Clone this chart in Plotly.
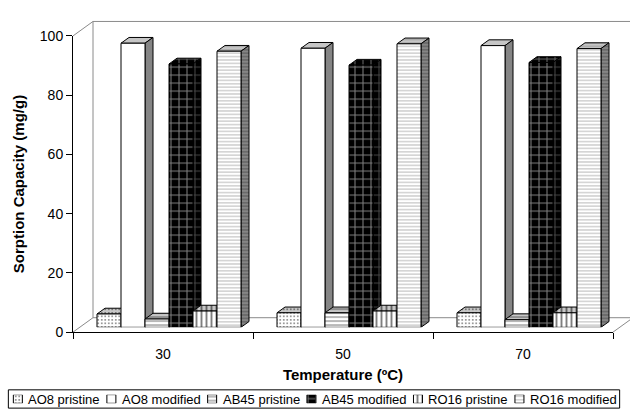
import plotly.graph_objects as go

# ---- data ---------------------------------------------------------------
temperatures = ["30", "50", "70"]
series_names = ["AO8 pristine", "AO8 modified", "AB45 pristine",
                "AB45 modified", "RO16 pristine", "RO16 modified"]
ao8_pristine = [4.5, 4.9, 4.9]
ao8_modified = [95.9, 94.2, 95.1]
ab45_pristine = [2.8, 4.9, 2.6]
ab45_modified = [88.9, 88.5, 89.4]
ro16_pristine = [5.5, 5.5, 4.9]
ro16_modified = [93.2, 95.7, 94.1]
y_ticks = [0, 20, 40, 60, 80, 100]

series_values = [ao8_pristine, ao8_modified, ab45_pristine,
                 ab45_modified, ro16_pristine, ro16_modified]

# ---- styling --------------------------------------------------------------
FONT = "Arial, Liberation Sans, sans-serif"
SIDE = "#858585"
TOP = "#c6c6c6"
EDGE = dict(color="black", width=1)


def pat(bg, fg="black", shape="", size=4, solidity=0.3):
    return dict(bg=bg, fg=fg, shape=shape, size=size, solidity=solidity)


styles = [
    dict(front=pat("white", "black", ".", 3.5, 0.22),
         side=pat(SIDE, "black", ".", 3.5, 0.22),
         top=pat(TOP, "black", ".", 3.5, 0.22)),
    dict(front=pat("white"), side=pat(SIDE), top=pat(TOP)),
    dict(front=pat("white", "black", "-", 4, 0.28),
         side=pat(SIDE, "black", "-", 4, 0.28),
         top=pat(TOP, "black", "-", 4, 0.28)),
    dict(front=pat("black", "white", "+", 8, 0.24),
         side=pat("black", "#8c8c8c", "+", 8, 0.24),
         top=pat("black", "#d0d0d0", "+", 8, 0.24)),
    dict(front=pat("white", "black", "|", 5, 0.38),
         side=pat(SIDE, "black", "|", 5, 0.38),
         top=pat(TOP, "black", "|", 5, 0.38)),
    dict(front=pat("white", "#8a8a8a", "-", 3.4, 0.36),
         side=pat(SIDE, "#3a3a3a", "-", 3.4, 0.36),
         top=pat(TOP, "#808080", "-", 3.4, 0.36)),
]


def bar_pattern(p):
    if not p["shape"]:
        return dict(shape="")
    return dict(shape=p["shape"], bgcolor=p["bg"], fgcolor=p["fg"],
                size=p["size"], solidity=p["solidity"])


# ---- geometry (pixels) -------------------------------------------------------
W, H = 630, 419
FRONT_L, FRONT_R, FRONT_B, FRONT_T = 73, 613, 337, 29   # front value/category axes
SHIFT_X, SHIFT_Y = 6, 5       # bar plane offset behind the front axes
DEPTH_X, DEPTH_Y = 8, 6       # bar depth
FLOOR_X, FLOOR_Y = 20, 15     # floor / back wall depth
WALL_TOP = 14


def fx(px):
    return px / W


def fy(py):
    return 1 - py / H


n_cat = len(temperatures)
x_range = [-0.5, n_cat - 0.5]
y_range = [0, 100]
px_per_x = (FRONT_R - FRONT_L) / n_cat
px_per_y = (FRONT_B - FRONT_T) / (y_range[1] - y_range[0])
dx = DEPTH_X / px_per_x
dy = DEPTH_Y / px_per_y

group_width = 0.8
bw = group_width / len(series_names)

fig = go.Figure()

# invisible anchor trace so the front axes are rendered
fig.add_trace(go.Scatter(x=[0], y=[0], mode="markers", marker=dict(opacity=0),
                         hoverinfo="skip", showlegend=False, xaxis="x", yaxis="y"))

# side and top faces of the 3-D columns (drawn beneath the front faces)
for i, (name, vals, st) in enumerate(zip(series_names, series_values, styles)):
    off = -group_width / 2 + i * bw
    for face in ("top", "side"):
        xs, ys = [], []
        for c, v in enumerate(vals):
            xl = c + off
            xr = xl + bw
            if face == "top":
                xs += [xl, xr, xr + dx, xl + dx, xl, None]
                ys += [v, v, v + dy, v + dy, v, None]
            else:
                xs += [xr, xr + dx, xr + dx, xr, xr, None]
                ys += [0, dy, v + dy, v, 0, None]
        p = st[face]
        kw = {}
        if p["shape"]:
            kw["fillpattern"] = dict(shape=p["shape"], bgcolor=p["bg"],
                                     fgcolor=p["fg"], size=p["size"],
                                     solidity=p["solidity"])
        fig.add_trace(go.Scatter(
            x=xs, y=ys, mode="lines", fill="toself", fillcolor=p["bg"],
            line=EDGE, hoverinfo="skip",
            showlegend=False, xaxis="x2", yaxis="y2", **kw))

# front faces of the columns
for i, (name, vals, st) in enumerate(zip(series_names, series_values, styles)):
    off = -group_width / 2 + i * bw
    p = st["front"]
    fig.add_trace(go.Bar(
        name=name, x=list(range(n_cat)), y=vals, width=bw, offset=off,
        marker=dict(color=p["bg"], line=EDGE, pattern=bar_pattern(p)),
        showlegend=False, xaxis="x3", yaxis="y3"))

# ---- legend row ---------------------------------------------------------------
AW = {"A": 667, "O": 778, "B": 667, "R": 722, "1": 556, "4": 556, "5": 556,
      "6": 556, "8": 556, " ": 278, "p": 556, "r": 333, "i": 222, "s": 500,
      "t": 278, "n": 556, "e": 556, "m": 833, "o": 556, "d": 556, "f": 278}
LEG_FONT = 13
SW = 9
SW_GAP = 4
ITEM_GAP = 9
LEG_PAD = 5
LEG_TOP, LEG_BOT = 397, 416
leg_mid = (LEG_TOP + LEG_BOT) / 2
text_w = [sum(AW.get(ch, 556) for ch in n) / 1000 * LEG_FONT for n in series_names]
total = 2 * LEG_PAD + sum(SW + SW_GAP + w for w in text_w) + ITEM_GAP * (len(series_names) - 1)
box_l = 314 - total / 2
box_r = box_l + total

cursor = box_l + LEG_PAD
annotations = []
for i, (name, st) in enumerate(zip(series_names, styles)):
    p = st["front"]
    fig.add_trace(go.Bar(
        x=[cursor + SW / 2], y=[1], base=0, width=SW,
        marker=dict(color=p["bg"], line=EDGE, pattern=bar_pattern(p)),
        showlegend=False, hoverinfo="skip", xaxis="x4", yaxis="y4"))
    annotations.append(dict(
        text=name, x=fx(cursor + SW + SW_GAP), y=fy(leg_mid + 0.5),
        xref="paper", yref="paper", xanchor="left", yanchor="middle",
        showarrow=False, font=dict(size=LEG_FONT, family=FONT, color="black")))
    cursor += SW + SW_GAP + text_w[i] + ITEM_GAP

# ---- floor and back wall ------------------------------------------------------------
WALL = "#8a8a8a"
bx, by = FRONT_L + FLOOR_X, FRONT_B - FLOOR_Y
edges = [
    (bx, WALL_TOP, W + 5, WALL_TOP),                     # wall top
    (bx, WALL_TOP, bx, by),                              # wall left edge
    (bx, by, FRONT_R + FLOOR_X, by),                     # back floor edge
    (FRONT_L, FRONT_T, bx, WALL_TOP),                    # upper side edge
    (FRONT_L, FRONT_B, bx, by),                          # floor left edge
    (FRONT_R, FRONT_B, FRONT_R + FLOOR_X, by),           # floor right edge
]
shapes = [dict(type="line", xref="paper", yref="paper",
               x0=fx(a), y0=fy(b), x1=fx(c), y1=fy(d),
               line=dict(color=WALL, width=1), layer="below")
          for a, b, c, d in edges]
shapes.append(dict(type="rect", xref="paper", yref="paper",
                   x0=fx(box_l), x1=fx(box_r), y0=fy(LEG_BOT), y1=fy(LEG_TOP),
                   line=dict(color="black", width=1)))

fig.update_layout(
    width=W, height=H, margin=dict(l=0, r=0, t=0, b=0),
    paper_bgcolor="white", plot_bgcolor="rgba(0,0,0,0)",
    showlegend=False, barmode="overlay",
    font=dict(family=FONT, size=14, color="black"),
    xaxis=dict(domain=[fx(FRONT_L), fx(FRONT_R)], range=x_range, anchor="y",
               tickmode="array", tickvals=list(range(n_cat)), ticktext=temperatures,
               ticks="outside", ticklen=9, tickcolor="rgba(0,0,0,0)",
               tickfont=dict(size=14),
               minor=dict(tickmode="array",
                          tickvals=[c - 0.5 for c in range(n_cat + 1)],
                          ticks="outside", ticklen=6, tickcolor="black",
                          tickwidth=1, showgrid=False),
               showline=True, linecolor="black", linewidth=1,
               showgrid=False, zeroline=False,
               title=dict(text="<b>Temperature (ºC)</b>",
                          font=dict(size=15, family=FONT), standoff=8)),
    yaxis=dict(domain=[fy(FRONT_B), fy(FRONT_T)], range=y_range, anchor="x",
               tickmode="array", tickvals=y_ticks, ticks="outside", ticklen=6,
               tickfont=dict(size=14),
               tickcolor="black", showline=True, linecolor="black", linewidth=1,
               showgrid=False, zeroline=False,
               title=dict(text="<b>Sorption Capacity (mg/g)</b>",
                          font=dict(size=15, family=FONT), standoff=11)),
    xaxis2=dict(domain=[fx(FRONT_L + SHIFT_X), fx(FRONT_R + SHIFT_X)],
                range=x_range, anchor="y2", visible=False),
    yaxis2=dict(domain=[fy(FRONT_B - SHIFT_Y), fy(FRONT_T - SHIFT_Y)],
                range=y_range, anchor="x2", visible=False),
    xaxis3=dict(overlaying="x2", range=x_range, anchor="y3", visible=False),
    yaxis3=dict(overlaying="y2", range=y_range, anchor="x3", visible=False),
    xaxis4=dict(domain=[0, 1], range=[0, W], anchor="y4", visible=False),
    yaxis4=dict(domain=[fy(leg_mid + SW / 2), fy(leg_mid - SW / 2)],
                range=[0, 1], anchor="x4", visible=False),
    shapes=shapes, annotations=annotations,
)

fig.write_html("out.html")
